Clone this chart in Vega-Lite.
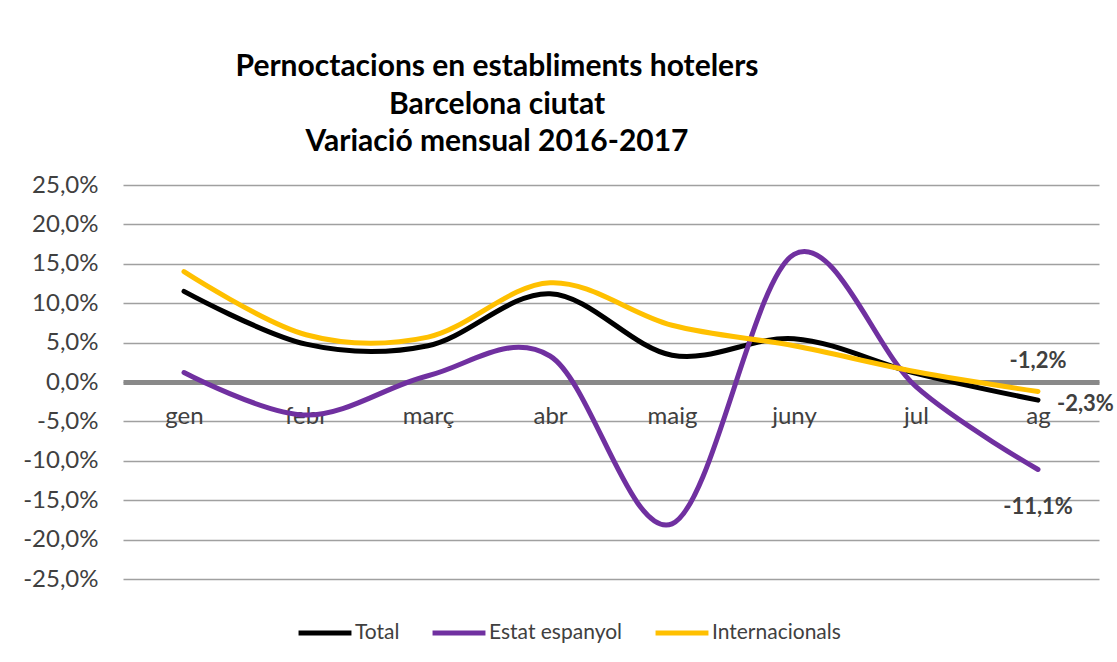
{
  "$schema": "https://vega.github.io/schema/vega-lite/v6.json",
  "width": 976,
  "height": 394,
  "autosize": {"type": "none"},
  "padding": {"left": 123, "top": 185, "right": 18, "bottom": 83},
  "background": "white",
  "config": {
    "locale": {"number": {"decimal": ",", "thousands": ".", "grouping": [3], "currency": ["", " €"], "minus": "-"}},
    "font": "Lato",
    "view": {"stroke": null}
  },
  "title": {
    "text": ["Pernoctacions en establiments hotelers", "Barcelona ciutat", "Variació mensual 2016-2017"],
    "font": "Lato",
    "fontSize": 30,
    "fontWeight": "bold",
    "color": "#000000",
    "anchor": "middle",
    "dx": -114,
    "offset": 16,
    "lineHeight": 37.5
  },
  "data": {
    "values": [
      {"month": "gen", "series": "Total", "value": 0.115},
      {"month": "febr", "series": "Total", "value": 0.048},
      {"month": "març", "series": "Total", "value": 0.046},
      {"month": "abr", "series": "Total", "value": 0.112},
      {"month": "maig", "series": "Total", "value": 0.034},
      {"month": "juny", "series": "Total", "value": 0.055},
      {"month": "jul", "series": "Total", "value": 0.011},
      {"month": "ag", "series": "Total", "value": -0.023},
      {"month": "gen", "series": "Estat espanyol", "value": 0.012},
      {"month": "febr", "series": "Estat espanyol", "value": -0.042},
      {"month": "març", "series": "Estat espanyol", "value": 0.008},
      {"month": "abr", "series": "Estat espanyol", "value": 0.033},
      {"month": "maig", "series": "Estat espanyol", "value": -0.18},
      {"month": "juny", "series": "Estat espanyol", "value": 0.162},
      {"month": "jul", "series": "Estat espanyol", "value": -0.006},
      {"month": "ag", "series": "Estat espanyol", "value": -0.111},
      {"month": "gen", "series": "Internacionals", "value": 0.14},
      {"month": "febr", "series": "Internacionals", "value": 0.06},
      {"month": "març", "series": "Internacionals", "value": 0.057},
      {"month": "abr", "series": "Internacionals", "value": 0.126},
      {"month": "maig", "series": "Internacionals", "value": 0.072},
      {"month": "juny", "series": "Internacionals", "value": 0.046},
      {"month": "jul", "series": "Internacionals", "value": 0.013},
      {"month": "ag", "series": "Internacionals", "value": -0.012}
    ]
  },
  "encoding": {
    "x": {
      "field": "month",
      "type": "ordinal",
      "sort": ["gen", "febr", "març", "abr", "maig", "juny", "jul", "ag"],
      "scale": {"type": "point", "padding": 0.5},
      "axis": {
        "title": null,
        "orient": "bottom",
        "offset": -197,
        "domain": true,
        "domainColor": "#898989",
        "domainWidth": 5,
        "ticks": false,
        "tickSize": 0,
        "labelAngle": 0,
        "labelPadding": 22,
        "labelFont": "Lato",
        "labelFontSize": 24,
        "labelColor": "#404040",
        "grid": false
      }
    },
    "y": {
      "field": "value",
      "type": "quantitative",
      "scale": {"domain": [-0.25, 0.25], "nice": false, "zero": false},
      "axis": {
        "title": null,
        "values": [-0.25, -0.2, -0.15, -0.1, -0.05, 0, 0.05, 0.1, 0.15, 0.2, 0.25],
        "format": ".1%",
        "domain": false,
        "ticks": false,
        "labelPadding": 25,
        "labelFont": "Lato",
        "labelFontSize": 24,
        "labelColor": "#404040",
        "grid": true,
        "gridColor": "#a0a0a0",
        "gridWidth": 1.5
      }
    }
  },
  "layer": [
    {
      "mark": {"type": "line", "interpolate": "cardinal", "strokeWidth": 5, "strokeCap": "round"},
      "encoding": {
        "color": {
          "field": "series",
          "type": "nominal",
          "sort": ["Total", "Estat espanyol", "Internacionals"],
          "scale": {"domain": ["Total", "Estat espanyol", "Internacionals"], "range": ["#000000", "#7030A0", "#FFC000"]},
          "legend": {
            "title": null,
            "orient": "none",
            "direction": "horizontal",
            "legendX": 173,
            "legendY": 419,
            "symbolType": "stroke",
            "symbolSize": 2800,
            "symbolStrokeWidth": 5,
            "labelFont": "Lato",
            "labelFontSize": 21,
            "labelColor": "#404040",
            "labelOffset": 1,
            "columnPadding": 22,
            "gridAlign": "none"
          }
        }
      }
    },
    {
      "transform": [{"filter": "datum.month == 'ag' && datum.series == 'Internacionals'"}],
      "mark": {"type": "text", "fontSize": 22, "fontWeight": "bold", "color": "#404040", "dy": -30, "font": "Lato"},
      "encoding": {"text": {"field": "value", "type": "quantitative", "format": ".1%"}}
    },
    {
      "transform": [{"filter": "datum.month == 'ag' && datum.series == 'Total'"}],
      "mark": {"type": "text", "fontSize": 22, "fontWeight": "bold", "color": "#404040", "dx": 19, "dy": 4, "align": "left", "font": "Lato"},
      "encoding": {"text": {"field": "value", "type": "quantitative", "format": ".1%"}}
    },
    {
      "transform": [{"filter": "datum.month == 'ag' && datum.series == 'Estat espanyol'"}],
      "mark": {"type": "text", "fontSize": 22, "fontWeight": "bold", "color": "#404040", "dy": 38, "font": "Lato"},
      "encoding": {"text": {"field": "value", "type": "quantitative", "format": ".1%"}}
    }
  ]
}
